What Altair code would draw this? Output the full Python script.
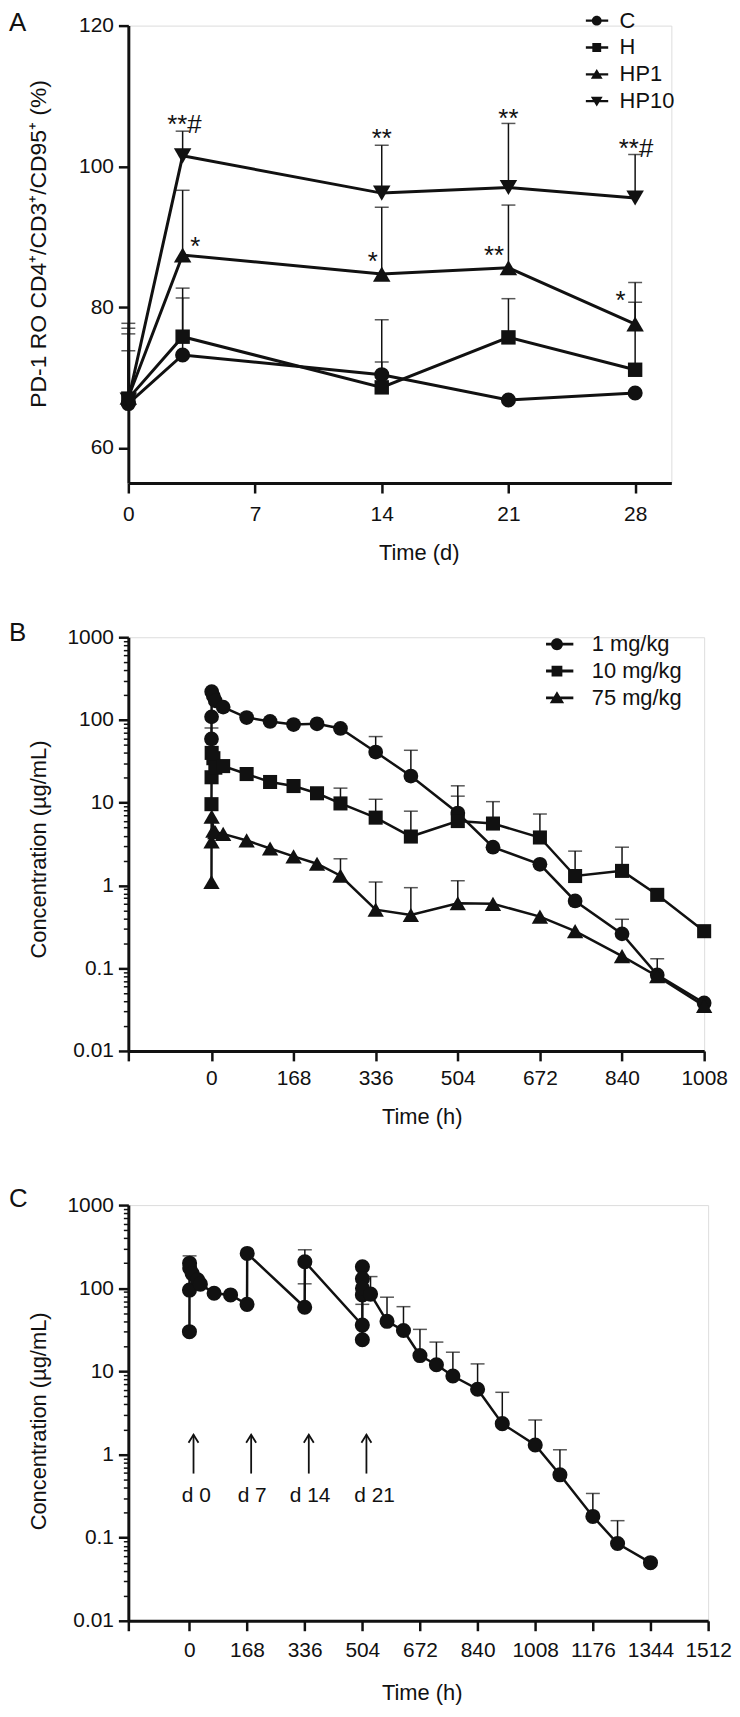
import altair as alt
import pandas as pd
import numpy as np

FONT = "Liberation Sans"
BLACK = "#111111"

# ---------------- Panel A data ----------------
a_time = [0, 3, 14, 21, 28]
a_groups = ["C", "H", "HP1", "HP10"]
a_mean_C = [66.3, 73.2, 70.4, 66.8, 67.8]
a_mean_H = [67.0, 75.8, 68.6, 75.7, 71.1]
a_mean_HP1 = [67.2, 87.4, 84.7, 85.6, 77.6]
a_mean_HP10 = [66.8, 101.5, 96.2, 97.0, 95.5]
a_upper_C = [73.8, 81.3, 78.2, None, None]
a_upper_H = [76.2, 82.7, 72.2, 81.2, 80.7]
a_upper_HP1 = [77.0, 96.6, 94.2, 94.5, 83.5]
a_upper_HP10 = [77.7, 105.0, 103.0, 106.1, 101.7]
a_sig_text = ["**#", "*", "**", "*", "**", "**", "**#", "*"]
a_sig_x = [3.1, 3.7, 14.0, 13.5, 21.0, 20.2, 28.05, 27.2]
a_sig_y = [106.9, 89.5, 104.9, 87.4, 107.7, 88.3, 103.4, 81.8]

# ---------------- Panel B data ----------------
b_time = [0.083, 0.25, 0.5, 4, 8, 24, 72, 120, 168, 216, 264, 336, 408, 504,
          576, 672, 744, 840, 912, 1008]
b_groups = ["1 mg/kg", "10 mg/kg", "75 mg/kg"]
b_mean_1 = [59, 109, 220, 194, 170, 143, 107, 96, 88, 90, 79, 41, 21, 7.5,
            2.9, 1.8, 0.65, 0.26, 0.083, 0.038]
b_mean_10 = [9.6, 20.3, 40, 34.5, 26.5, 27.7, 22.2, 17.8, 15.9, 13.0, 9.8, 6.6,
             3.9, 6.0, 5.6, 3.8, 1.3, 1.5, 0.77, 0.28]
b_mean_75 = [1.1, 3.4, 6.8, 4.6, 4.4, 4.2, 3.5, 2.8, 2.25, 1.83, 1.31, 0.51,
             0.44, 0.61, 0.6, 0.42, 0.28, 0.14, 0.08, 0.035]
b_upper_1 = [80, None, None, None, None, None, None, None, None, None, None,
             63, 43, 16, None, None, None, 0.39, 0.13, None]
b_upper_10 = [None, None, None, None, None, None, None, None, None, None,
              15, 11, 7.9, 12, 10.3, 7.3, 2.6, 2.9, None, None]
b_upper_75 = [None, None, None, None, None, None, None, None, None, None,
              2.1, 1.1, 0.94, 1.14, None, None, None, None, None, None]

# ---------------- Panel C data ----------------
c_time = [0.083, 0.25, 0.5, 1, 8, 24, 32, 72, 120, 168, 168.5, 336, 336.5,
          504, 504.1, 504.2, 504.3, 504.4, 504.5, 528, 576, 624, 672, 720, 768,
          840, 912, 1008, 1080, 1176, 1248, 1344]
c_mean = [30, 95, 200, 175, 150, 126, 112, 87, 83, 64, 262, 59, 208,
          36, 24, 83, 181, 130, 100, 85, 40, 31, 15.5, 12, 8.8,
          6.1, 2.35, 1.3, 0.57, 0.18, 0.085, 0.05]
c_upper = [None, None, 245, None, None, None, None, None, None, None, None, 113, 290,
           64, None, None, None, None, None, 138, 78, 60, 32, 22.5, 17,
           12.3, 5.6, 2.6, 1.14, 0.34, 0.16, None]
c_dose_labels = ["d 0", "d 7", "d 14", "d 21"]
c_arrow_x = [12, 180, 348, 516]
c_arrow_low = [0.59, 0.59, 0.59, 0.59]
c_arrow_high = [1.73, 1.73, 1.73, 1.73]
c_label_x = [20, 183, 352, 540]
c_label_y = [0.32, 0.32, 0.32, 0.32]

# ---------------- tick values ----------------
a_xticks = [0, 7, 14, 21, 28]
a_yticks = [60, 80, 100, 120]
b_xticks = [-170, 0, 168, 336, 504, 672, 840, 1008]
c_xticks = [-178, 0, 168, 336, 504, 672, 840, 1008, 1176, 1344, 1512]
log_ticks = []
for e in range(-2, 3):
    for k in range(1, 10):
        log_ticks.append(float(f"{k}e{e}"))
log_ticks.append(1000.0)

MAJOR = "abs(round(log(datum.value)/LN10) - log(datum.value)/LN10) < 1e-6"


def long_df(times, groups, means, uppers):
    rows = []
    for g, m, u in zip(groups, means, uppers):
        for t, v, e in zip(times, m, u):
            rows.append({"t": t, "v": v, "e": (np.nan if e is None else e), "g": g})
    return pd.DataFrame(rows)


def ternary(mapping):
    items = list(mapping.items())
    expr = repr(items[-1][1])
    for k, v in reversed(items[:-1]):
        expr = f"datum.g === {k!r} ? {v!r} : ({expr})"
    return expr


def axis(**kw):
    base = dict(grid=False, domainColor=BLACK, domainWidth=3, tickColor=BLACK,
                tickWidth=2.5, tickSize=10, labelFont=FONT, labelFontSize=21,
                labelColor=BLACK, labelPadding=5, labelFlush=False,
                labelOverlap=False, titleFont=FONT, titleFontSize=22,
                titleFontWeight="normal", titleColor=BLACK)
    base.update(kw)
    return alt.Axis(**base)


def log_axis(title, ty):
    return axis(values=log_ticks, title=title, titleX=-90, titleY=ty,
                titleBaseline="middle",
                labelExpr=f"{MAJOR} ? format(datum.value, '') : ''",
                tickSize={"condition": {"test": MAJOR, "value": 10}, "value": 5},
                tickWidth={"condition": {"test": MAJOR, "value": 2.5}, "value": 1.5})


def legend_paths(L, m, t):
    # filled bar (the line of the legend key) + filled marker, same winding
    bar = f"M-{L},-{t}L{L},-{t}L{L},{t}L-{L},{t}Z"
    a = round(m * 0.9, 3)
    w = round(m * 1.2, 3)
    h = round(m * 1.1, 3)
    b = round(m * 0.9, 3)
    return [
        bar + f"M{m},0A{m},{m},0,1,1,-{m},0A{m},{m},0,1,1,{m},0Z",
        bar + f"M-{a},-{a}L{a},-{a}L{a},{a}L-{a},{a}Z",
        bar + f"M0,-{h}L{w},{b}L-{w},{b}Z",
        bar + f"M0,{h}L-{w},-{b}L{w},-{b}Z",
    ]


def make_panel(df, xs, ys, shape_map, size_map, leg_paths, leg_kw, line_w, letter,
               letter_y, width, height, extra=()):
    groups = list(dict.fromkeys(df["g"]))
    X = lambda f: alt.X(f"{f}:Q", scale=xs[0], axis=xs[1])
    Y = lambda f: alt.Y(f"{f}:Q", scale=ys[0], axis=ys[1])
    base = alt.Chart(df)
    err = base.transform_filter("isValid(datum.e)").mark_rule(
        color=BLACK, strokeWidth=1.5).encode(x=X("t"), y=Y("v"), y2=alt.Y2("e:Q"))
    cap = base.transform_filter("isValid(datum.e)").mark_tick(
        orient="horizontal", color=BLACK, size=14, thickness=1.5).encode(x=X("t"), y=Y("e"))
    line = base.mark_line(color=BLACK, strokeWidth=line_w).encode(
        x=X("t"), y=Y("v"), detail="g:N")
    pts = base.transform_calculate(
        shp=ternary(shape_map), sz=ternary(size_map)
    ).mark_point(filled=True, color=BLACK, opacity=1).encode(
        x=X("t"), y=Y("v"),
        shape=alt.Shape("shp:N", scale=None),
        size=alt.Size("sz:Q", scale=None))
    layers = [err, cap, line, pts]
    if leg_paths:
        leg = base.mark_point(filled=True, opacity=0, color=BLACK).encode(
            x=X("t"), y=Y("v"),
            shape=alt.Shape("g:N", scale=alt.Scale(domain=groups, range=leg_paths),
                            legend=alt.Legend(title=None, orient="none", symbolSize=324,
                                              symbolFillColor=BLACK,
                                              symbolOpacity=1, labelFont=FONT,
                                              labelFontSize=22, labelColor=BLACK,
                                              clipHeight=24, padding=0, rowPadding=3,
                                              **leg_kw)))
        layers.append(leg)
    for mk in extra:
        layers.append(mk(X, Y))
    letter_df = pd.DataFrame({"lbl": [letter]})
    layers.append(alt.Chart(letter_df).mark_text(
        font=FONT, fontSize=26, color=BLACK, align="left", baseline="middle").encode(
        x=alt.value(-120), y=alt.value(letter_y), text="lbl:N"))
    return alt.layer(*layers).properties(width=width, height=height)


# ---------------- Panel A ----------------
df_a = long_df(a_time, a_groups, [a_mean_C, a_mean_H, a_mean_HP1, a_mean_HP10],
               [a_upper_C, a_upper_H, a_upper_HP1, a_upper_HP10])
df_sig = pd.DataFrame({"sx": a_sig_x, "sy": a_sig_y, "txt": a_sig_text})
xa = (alt.Scale(domain=[0, 30], nice=False, zero=False),
      axis(values=a_xticks, format="d", labelPadding=11, title="Time (d)",
           titleX=292, titleY=70, titleBaseline="middle"))
ya = (alt.Scale(domain=[55, 120], nice=False, zero=False),
      axis(values=a_yticks, format="d", title="PD-1 RO CD4⁺/CD3⁺/CD95⁺ (%)",
           titleFontSize=23, titleX=-90, titleY=219, titleBaseline="middle"))


def sig_layer(X, Y):
    return alt.Chart(df_sig).mark_text(font=FONT, fontSize=26, color=BLACK,
                                       baseline="middle", dy=7).encode(
        x=X("sx"), y=Y("sy"), text="txt:N")


panel_a = make_panel(
    df_a, xa, ya,
    {"C": "circle", "H": "square", "HP1": "triangle-up", "HP10": "triangle-down"},
    {"C": 230, "H": 210, "HP1": 310, "HP10": 310},
    legend_paths(1.28, 0.55, 0.13),
    dict(legendX=460, legendY=-17, labelOffset=12),
    3, "A", -3, 546, 460, extra=[sig_layer])

# ---------------- Panel B ----------------
df_b = long_df(b_time, b_groups, [b_mean_1, b_mean_10, b_mean_75],
               [b_upper_1, b_upper_10, b_upper_75])
xb = (alt.Scale(domain=[-170, 1008], nice=False, zero=False),
      axis(values=b_xticks, format="d", labelPadding=7,
           labelExpr="datum.value < 0 ? '' : datum.label",
           title="Time (h)", titleX=295, titleY=66, titleBaseline="middle"))
yb = (alt.Scale(type="log", domain=[0.01, 1000], nice=False),
      log_axis("Concentration (µg/mL)", 213))
b_leg_paths = legend_paths(1.83, 0.67, 0.16)[:3]
panel_b = make_panel(
    df_b, xb, yb,
    {"1 mg/kg": "circle", "10 mg/kg": "square", "75 mg/kg": "triangle-up"},
    {"1 mg/kg": 220, "10 mg/kg": 200, "75 mg/kg": 270},
    b_leg_paths,
    dict(legendX=420, legendY=-5, labelOffset=24,
         labelExpr="datum.label == '1 mg/kg' ? '\u2007' + datum.label : datum.label"),
    2.5, "B", -4, 579, 416)

# ---------------- Panel C ----------------
df_c = long_df(c_time, ["C"], [c_mean], [c_upper])
df_arrow = pd.DataFrame({"ax": c_arrow_x, "lo": c_arrow_low, "hi": c_arrow_high})
df_dlab = pd.DataFrame({"lx": c_label_x, "ly": c_label_y, "lab": c_dose_labels})
xc = (alt.Scale(domain=[-178, 1512], nice=False, zero=False),
      axis(values=c_xticks, format="d", labelPadding=9,
           labelExpr="datum.value < 0 ? '' : datum.label",
           title="Time (h)", titleX=295, titleY=72, titleBaseline="middle"))
yc = (alt.Scale(type="log", domain=[0.01, 1000], nice=False),
      log_axis("Concentration (µg/mL)", 217))


def arrow_shaft(X, Y):
    return alt.Chart(df_arrow).mark_rule(color=BLACK, strokeWidth=1.8).encode(
        x=X("ax"), y=Y("lo"), y2=alt.Y2("hi:Q"))


def arrow_head(X, Y):
    return alt.Chart(df_arrow).mark_point(
        shape="M-1,1.6L0,0L1,1.6", filled=False, color=BLACK, strokeWidth=1.8,
        size=100, opacity=1).encode(x=X("ax"), y=Y("hi"))


def dose_text(X, Y):
    return alt.Chart(df_dlab).mark_text(font=FONT, fontSize=21, color=BLACK,
                                        baseline="middle").encode(
        x=X("lx"), y=Y("ly"), text="lab:N")


panel_c = make_panel(
    df_c, xc, yc, {"C": "circle"}, {"C": 230}, None, None, 2.5, "C", -6, 583, 418,
    extra=[arrow_shaft, arrow_head, dose_text])

chart = alt.vconcat(panel_a, panel_b, panel_c, spacing=155, bounds="flush").resolve_scale(
    x="independent", y="independent", shape="independent"
).resolve_legend(shape="independent").properties(
    padding={"left": 0, "top": -5, "right": 0, "bottom": 0}
).configure_view(stroke=None).configure(font=FONT)

chart.save("out.html", embed_options={"renderer": "svg", "actions": False})
